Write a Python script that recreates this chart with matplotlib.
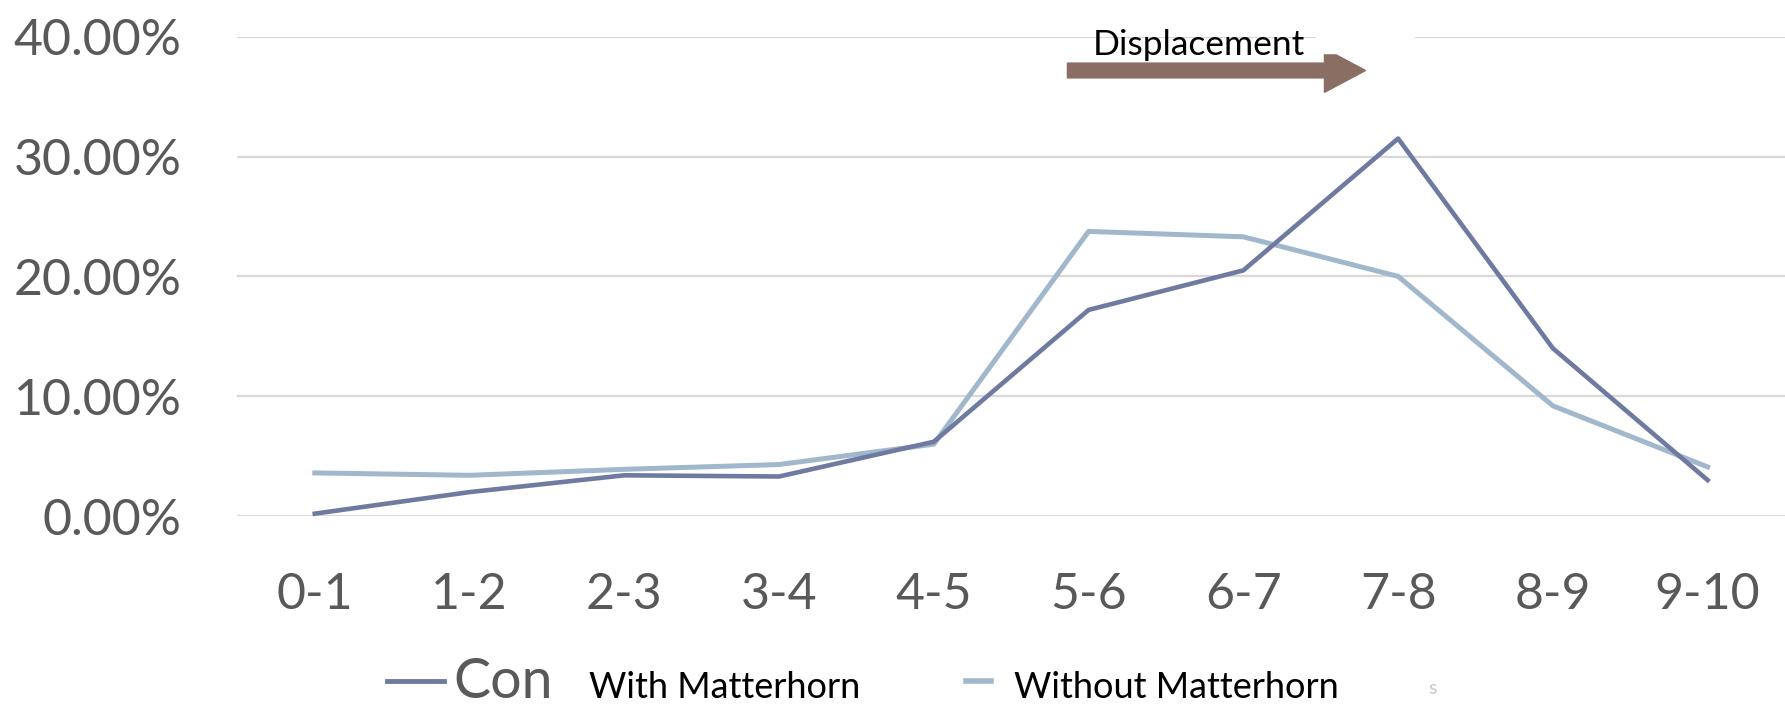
import matplotlib.pyplot as plt
import matplotlib.patches as mpatches
from matplotlib.lines import Line2D
import numpy as np

# Data (fractions)
categories = ["0-1", "1-2", "2-3", "3-4", "4-5", "5-6", "6-7", "7-8", "8-9", "9-10"]
with_matterhorn = [0.002, 0.020, 0.034, 0.033, 0.062, 0.172, 0.205, 0.315, 0.140, 0.030]
without_matterhorn = [0.036, 0.034, 0.039, 0.043, 0.060, 0.2375, 0.233, 0.200, 0.092, 0.041]
y_ticks = [0.0, 0.1, 0.2, 0.3, 0.4]

dark = "#6f7aa0"
light = "#a1b7cc"
gray = "#595959"

plt.rcParams['font.family'] = ['Lato', 'DejaVu Sans']

fig = plt.figure(figsize=(17.85, 7.05), dpi=100)
ax = fig.add_axes([0.133, 0.268, 0.867, 0.680])

x = np.arange(len(categories))
ax.plot(x, with_matterhorn, color=dark, linewidth=3.3, clip_on=False, zorder=3)
ax.plot(x, without_matterhorn, color=light, linewidth=3.6, clip_on=False, zorder=2)

# Axis setup
ax.set_xlim(-0.5, len(categories) - 0.5)
ax.set_ylim(0, 0.4)
ax.set_xticks(x)
ax.set_xticklabels(categories)
ax.set_yticks(y_ticks)
ax.set_yticklabels(["%.2f%%" % (v * 100) for v in y_ticks])
ax.tick_params(axis='both', length=0, labelsize=36, labelcolor=gray)
ax.tick_params(axis='y', pad=40)
ax.tick_params(axis='x', pad=40)
ax.grid(axis='y', color="#d9d9d9", linewidth=1.6)
ax.set_axisbelow(True)
for s in ax.spines.values():
    s.set_visible(False)

# Displacement arrow and label
arrow = mpatches.FancyArrow(0.598, 0.900, 0.167, 0.0, width=0.021, head_width=0.062,
                            head_length=0.023, length_includes_head=True,
                            color="#8a6e64", transform=fig.transFigure)
fig.patches.append(arrow)
fig.patches.append(mpatches.Rectangle((0.737, 0.925), 0.055, 0.045, color="white",
                                      transform=fig.transFigure, zorder=5))
fig.text(0.612, 0.922, "Displacement", fontsize=25.5, color="black", va='baseline', zorder=6)

# Legend (as it appears in the original)
fig.add_artist(Line2D([0.217, 0.249], [0.034, 0.034], color=dark, linewidth=3.5,
                      transform=fig.transFigure))
fig.text(0.254, 0.010, "Con", fontsize=40, color=gray, va='baseline')
fig.text(0.330, 0.010, "With Matterhorn", fontsize=26, color="black", va='baseline')
fig.add_artist(Line2D([0.541, 0.555], [0.034, 0.034], color=light, linewidth=4,
                      transform=fig.transFigure))
fig.text(0.568, 0.010, "Without Matterhorn", fontsize=26, color="black", va='baseline')
fig.text(0.800, 0.015, "s", fontsize=14, color="#c8c8c8", va='baseline')

plt.savefig("out.png", dpi=100)
